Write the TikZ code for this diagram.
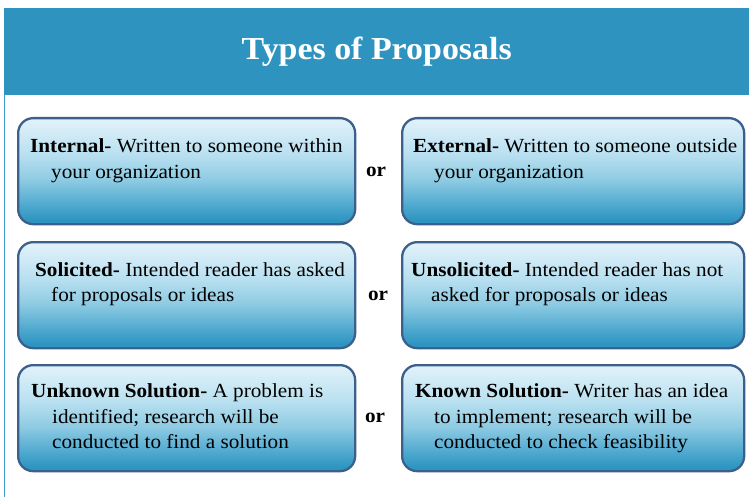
\documentclass[tikz,border=0pt]{standalone}
\usepackage{fontspec}
\setmainfont{Liberation Serif}[FakeStretch=1.06]
\usetikzlibrary{calc}
\definecolor{hdr}{HTML}{2E93BE}
\definecolor{bord}{HTML}{3C5F8C}
\definecolor{shT}{HTML}{E2F2FA}
\definecolor{shL}{HTML}{B9E0F0}
\definecolor{shM}{HTML}{8ECBE3}
\definecolor{shD}{HTML}{4FA9CF}
\definecolor{shB}{HTML}{2E95C1}
\definecolor{sideline}{HTML}{3A9AD0}
\pgfdeclareverticalshading{boxshade}{100bp}{color(0bp)=(shB); color(27bp)=(shB); color(34bp)=(shD); color(46bp)=(shM); color(58bp)=(shL); color(75bp)=(shT); color(100bp)=(shT)}
\tikzset{
  pbox/.style={draw=bord, line width=2.3pt, rounded corners=15pt, shading=boxshade,
    minimum width=337pt, minimum height=106pt, inner sep=0pt, anchor=north west},
  ptext/.style={anchor=north west, align=left, inner sep=0pt, font=\fontsize{20}{25.7}\selectfont, text=black},
  ortext/.style={font=\fontsize{20}{22}\selectfont\bfseries, inner sep=0pt},
}
\begin{document}
\begin{tikzpicture}[x=1pt,y=-1pt]
\useasboundingbox (0,0) rectangle (749,497);
\fill[white] (0,0) rectangle (749,497);
% header
\node[fill=hdr, minimum width=745pt, minimum height=87pt, inner sep=0pt, anchor=north west,
  font=\fontsize{32}{36}\selectfont\bfseries, text=white] (title) at (4,7.5) {Types of Proposals};
\coordinate (lineend) at (4.5,497);
\draw[sideline, line width=1pt] (title.south west) ++(0.5,0) -- (lineend);

% row 1
\node[pbox] (b1l) at (17,117) {};
\node[pbox, minimum width=342pt] (b1r) at (401,117) {};
\node[ptext] (t1l) at (30,138.5) {\textbf{Internal-} Written to someone within\\\hspace*{21pt}your organization};
\node[ptext] (t1r) at (413,138.5) {\textbf{External-} Written to someone outside\\\hspace*{21pt}your organization};
\node[ortext] (or1) at (376,172) {or};

% row 2
\node[pbox] (b2l) at (17,241) {};
\node[pbox, minimum width=342pt] (b2r) at (401,241) {};
\node[ptext] (t2l) at (35,262) {\textbf{Solicited-} Intended reader has asked\\\hspace*{16pt}for proposals or ideas};
\node[ptext] (t2r) at (411,262) {\textbf{Unsolicited-} Intended reader has not\\\hspace*{20pt}asked for proposals or ideas};
\node[ortext] (or2) at (378,296) {or};

% row 3
\node[pbox] (b3l) at (17,364) {};
\node[pbox, minimum width=342pt] (b3r) at (401,364) {};
\node[ptext] (t3l) at (31,383.5) {\textbf{Unknown Solution-} A problem is\\\hspace*{21pt}identified; research will be\\\hspace*{21pt}conducted to find a solution};
\node[ptext] (t3r) at (415,383.5) {\textbf{Known Solution-} Writer has an idea\\\hspace*{19pt}to implement; research will be\\\hspace*{19pt}conducted to check feasibility};
\node[ortext] (or3) at (375,418) {or};
\end{tikzpicture}
\end{document}
